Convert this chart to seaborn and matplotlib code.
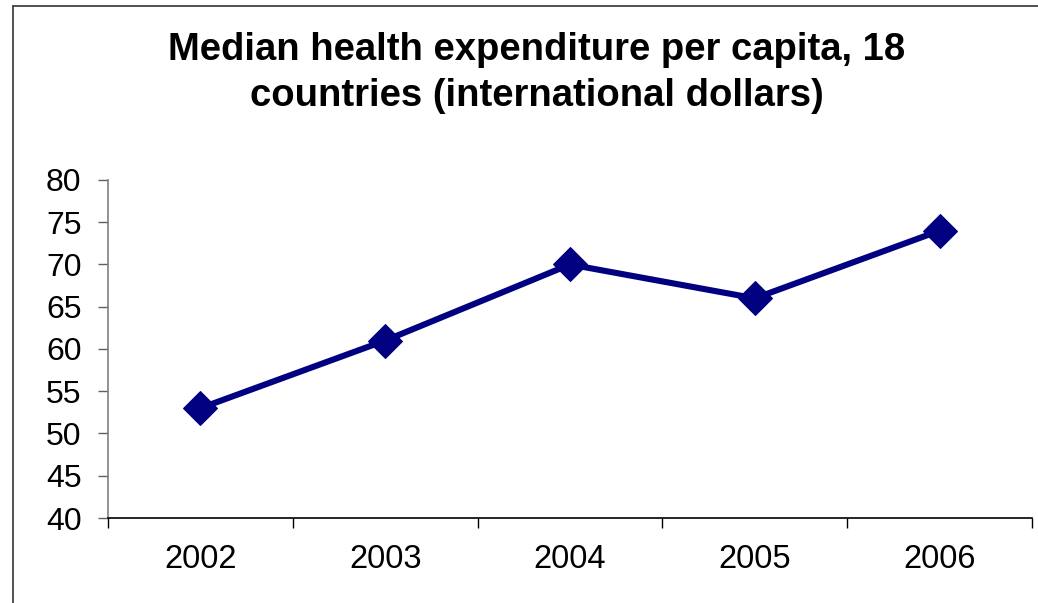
import numpy as np
import pandas as pd
import matplotlib
matplotlib.use("Agg")
import matplotlib.pyplot as plt
from matplotlib.lines import Line2D
import seaborn as sns

# ------------------- Données -------------------
years = ["2002", "2003", "2004", "2005", "2006"]
expenditure = [53, 61, 70, 66, 74]
y_ticks = [40, 45, 50, 55, 60, 65, 70, 75, 80]
title = "Median health expenditure per capita, 18\ncountries (international dollars)"

df = pd.DataFrame({"pos": np.arange(len(years)), "value": expenditure})

# ------------------- Style -------------------
sns.set_style("white")
plt.rcParams["font.family"] = ["Liberation Sans", "DejaVu Sans"]
plt.rcParams["text.color"] = "black"
plt.rcParams["xtick.color"] = "black"
plt.rcParams["ytick.color"] = "black"

fig = plt.figure(figsize=(10.38, 6.03), dpi=100)
ax = fig.add_axes([108 / 1038, 85 / 603, 924 / 1038, 338 / 603])

sns.lineplot(data=df, x="pos", y="value", ax=ax, color="#000080",
             linewidth=4.4, marker="D", markersize=17,
             markeredgecolor="#000080", markerfacecolor="#000080")

ax.set_xlim(-0.5, len(years) - 0.5)
ax.set_ylim(min(y_ticks), max(y_ticks))
ax.set_yticks(y_ticks)
ax.set_xlabel("")
ax.set_ylabel("")

# ticks aux limites des catégories, étiquettes au centre
ax.set_xticks(np.arange(len(years) + 1) - 0.5)
ax.set_xticklabels([])
ax.set_xticks(np.arange(len(years)), minor=True)
ax.set_xticklabels(years, minor=True)
ax.tick_params(axis="x", which="major", direction="out", length=7, width=1,
               color="#000000", bottom=True)
ax.tick_params(axis="x", which="minor", length=0, pad=19, labelsize=23.5,
               labelcolor="black")
ax.tick_params(axis="y", direction="out", length=7, width=1, color="#606060",
               pad=12, labelsize=23, labelcolor="black", left=True)

sns.despine(ax=ax, top=True, right=True)
ax.spines["left"].set_color("#808080")
ax.spines["left"].set_linewidth(1.2)
ax.spines["bottom"].set_color("#000000")
ax.spines["bottom"].set_linewidth(1.2)

# ------------------- Titre -------------------
fig.text(0.517, 1 - 73 / 603, title, ha="center", va="center", color="black",
         fontsize=27.5, fontweight="bold", linespacing=1.33)

# cadre du graphique (haut et gauche visibles)
x0, y0 = 13 / 1038, 1 - 6 / 603
fig.add_artist(Line2D([x0, x0], [0, y0], color="#333333", linewidth=1.2))
fig.add_artist(Line2D([x0, 1], [y0, y0], color="#333333", linewidth=1.2))

fig.savefig("out.png", dpi=100)
